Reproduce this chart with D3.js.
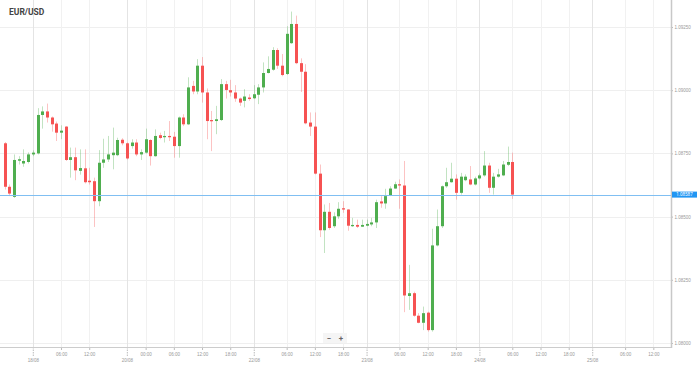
<!DOCTYPE html>
<html>
<head>
<meta charset="utf-8">
<script src="https://cdn.jsdelivr.net/npm/d3@7"></script>
<style>
body { margin: 0; background: #fff; }
svg { display: block; font-family: Roboto, "Open Sans", sans-serif; }
</style>
</head>
<body>
<div id="container"></div>
<script>
// hourly EUR/USD candles, index 0 = 17/08 18:00 (weekend removed)
const opens = [1.08790,1.08618,1.08578,1.08721,1.08710,1.08716,1.08746,1.08750,1.08902,1.08916,
  1.08892,1.08868,1.08832,1.08856,1.08724,1.08735,1.08681,1.08691,1.08642,1.08640,
  1.08561,1.08713,1.08726,1.08743,1.08743,1.08804,1.08790,1.08779,1.08793,1.08746,
  1.08753,1.08803,1.08739,1.08822,1.08814,1.08819,1.08816,1.08779,1.08892,1.08865,
  1.09017,1.08995,1.09097,1.08991,1.08882,1.08878,1.08882,1.09024,1.09000,1.08991,
  1.08967,1.08958,1.08971,1.08968,1.08982,1.09011,1.09068,1.09081,1.09159,1.09097,
  1.09064,1.09186,1.09262,1.09107,1.09073,1.08872,1.08856,1.08670,1.08446,1.08519,
  1.08462,1.08501,1.08533,1.08528,1.08462,1.08467,1.08460,1.08464,1.08469,1.08477,
  1.08560,1.08552,1.08585,1.08611,1.08628,1.08623,1.08186,1.08197,1.08108,1.08080,
  1.08120,1.08051,1.08386,1.08462,1.08620,1.08636,1.08650,1.08594,1.08644,1.08647,
  1.08627,1.08651,1.08663,1.08702,1.08614,1.08658,1.08663,1.08705,1.08716];
const highs = [1.08795,1.08627,1.08746,1.08739,1.08766,1.08754,1.08762,1.08929,1.08936,1.08947,
  1.08896,1.08876,1.08861,1.08858,1.08773,1.08773,1.08766,1.08766,1.08693,1.08654,
  1.08763,1.08808,1.08819,1.08852,1.08812,1.08810,1.08793,1.08806,1.08806,1.08766,
  1.08848,1.08806,1.08845,1.08832,1.08839,1.08878,1.08835,1.08896,1.08905,1.09051,
  1.09037,1.09123,1.09131,1.09007,1.08918,1.08938,1.09044,1.09037,1.09041,1.09020,
  1.08971,1.09004,1.08984,1.09020,1.09024,1.09110,1.09134,1.09170,1.09166,1.09143,
  1.09253,1.09311,1.09295,1.09126,1.09103,1.08912,1.08912,1.08706,1.08548,1.08554,
  1.08517,1.08557,1.08561,1.08530,1.08495,1.08488,1.08488,1.08488,1.08495,1.08567,
  1.08581,1.08610,1.08620,1.08638,1.08647,1.08720,1.08309,1.08203,1.08118,1.08144,
  1.08124,1.08452,1.08528,1.08623,1.08693,1.08713,1.08667,1.08673,1.08667,1.08700,
  1.08658,1.08670,1.08759,1.08713,1.08673,1.08689,1.08720,1.08777,1.08753];
const lows = [1.08607,1.08581,1.08574,1.08706,1.08697,1.08710,1.08739,1.08746,1.08848,1.08872,
  1.08836,1.08799,1.08806,1.08720,1.08654,1.08644,1.08666,1.08631,1.08627,1.08459,
  1.08541,1.08693,1.08716,1.08687,1.08739,1.08782,1.08726,1.08769,1.08739,1.08724,
  1.08749,1.08702,1.08737,1.08806,1.08793,1.08799,1.08733,1.08733,1.08858,1.08862,
  1.08984,1.08984,1.08951,1.08806,1.08759,1.08826,1.08878,1.08967,1.08975,1.08954,
  1.08938,1.08932,1.08958,1.08965,1.08945,1.08991,1.09066,1.09077,1.09084,1.09055,
  1.09060,1.09183,1.09103,1.08993,1.08865,1.08819,1.08667,1.08419,1.08356,1.08448,
  1.08455,1.08491,1.08515,1.08444,1.08459,1.08455,1.08459,1.08462,1.08462,1.08455,
  1.08535,1.08531,1.08581,1.08610,1.08531,1.08122,1.08131,1.08104,1.08078,1.08051,
  1.08045,1.08045,1.08382,1.08455,1.08614,1.08634,1.08567,1.08587,1.08640,1.08624,
  1.08623,1.08647,1.08658,1.08594,1.08587,1.08654,1.08660,1.08700,1.08570];
const closes = [1.08618,1.08591,1.08724,1.08727,1.08720,1.08746,1.08753,1.08902,1.08916,1.08892,
  1.08865,1.08832,1.08840,1.08724,1.08735,1.08683,1.08692,1.08636,1.08636,1.08561,
  1.08713,1.08726,1.08746,1.08753,1.08803,1.08790,1.08730,1.08793,1.08746,1.08755,
  1.08806,1.08739,1.08819,1.08811,1.08819,1.08814,1.08779,1.08892,1.08865,1.09011,
  1.08995,1.09097,1.08991,1.08878,1.08877,1.08885,1.09024,1.09001,1.08991,1.08967,
  1.08951,1.08975,1.08965,1.08984,1.09011,1.09068,1.09084,1.09159,1.09097,1.09060,
  1.09223,1.09262,1.09107,1.09073,1.08869,1.08856,1.08670,1.08446,1.08519,1.08455,
  1.08501,1.08531,1.08528,1.08464,1.08467,1.08460,1.08467,1.08471,1.08477,1.08557,
  1.08552,1.08581,1.08611,1.08628,1.08623,1.08188,1.08197,1.08108,1.08080,1.08118,
  1.08051,1.08386,1.08462,1.08620,1.08636,1.08650,1.08594,1.08658,1.08658,1.08627,
  1.08651,1.08663,1.08702,1.08614,1.08658,1.08667,1.08706,1.08716,1.08587];

const priceTicks = [1.08, 1.0825, 1.085, 1.0875, 1.09, 1.0925];
// x ticks as candle index
const timeTicks = [6, 12, 18, 26, 30, 36, 42, 48, 53, 60, 66, 72, 77, 84, 90, 96, 101, 108, 114, 120, 125, 132, 138];
const timeLabels = ["18/08","06:00","12:00","20/08","00:00","06:00","12:00","18:00","22/08","06:00","12:00","18:00",
  "23/08","06:00","12:00","18:00","24/08","06:00","12:00","18:00","25/08","06:00","12:00"];

const width = 699;
const height = 365;
const plotRight = 671;
const plotBottom = 347;

const green = "#4fae4f";
const red = "#f65252";

const isDate = l => l.includes("/");

const x = d3.scaleLinear().domain([-0.98, 141.76]).range([0, plotRight]);
const y = d3.scaleLinear().domain([1.08, 1.0925]).range([343, 27]);

const candles = opens.map((o, i) => ({i, o, h: highs[i], l: lows[i], c: closes[i]}));

const svg = d3.create("svg")
    .attr("width", width)
    .attr("height", height)
    .attr("viewBox", [0, 0, width, height]);

// grid
svg.append("g")
    .selectAll()
    .data(priceTicks)
    .join("line")
    .attr("x1", 0).attr("x2", plotRight)
    .attr("y1", d => Math.round(y(d)) + 0.5)
    .attr("y2", d => Math.round(y(d)) + 0.5)
    .attr("stroke", "#efefef");

svg.append("g")
    .selectAll()
    .data(timeTicks)
    .join("line")
    .attr("x1", d => Math.round(x(d)) + 0.5)
    .attr("x2", d => Math.round(x(d)) + 0.5)
    .attr("y1", 0).attr("y2", plotBottom)
    .attr("stroke", (d, i) => isDate(timeLabels[i]) ? "#e4e4e4" : "#f1f1f1");

// title
svg.append("text")
    .attr("x", 9).attr("y", 15)
    .attr("font-size", "8.5px")
    .attr("font-weight", "bold")
    .attr("fill", "#444")
    .text("EUR/USD");

// candles
const cg = svg.append("g");
cg.selectAll()
    .data(candles)
    .join("line")
    .attr("x1", d => Math.round(x(d.i)) + 0.5)
    .attr("x2", d => Math.round(x(d.i)) + 0.5)
    .attr("y1", d => y(d.h))
    .attr("y2", d => y(d.l))
    .attr("stroke", d => d.c >= d.o ? green : red)
    .attr("stroke-opacity", 0.35);

cg.selectAll()
    .data(candles)
    .join("rect")
    .attr("x", d => Math.round(x(d.i)) - 1)
    .attr("width", 3)
    .attr("y", d => y(Math.max(d.o, d.c)))
    .attr("height", d => Math.max(1, Math.abs(y(d.o) - y(d.c))))
    .attr("fill", d => d.c >= d.o ? green : red);

// current price line
const last = closes[closes.length - 1];
svg.append("rect")
    .attr("x", 0).attr("width", plotRight)
    .attr("y", Math.round(y(last)))
    .attr("height", 1)
    .attr("fill", "#80bff2");

// right axis
const yAxis = svg.append("g")
    .attr("transform", `translate(${plotRight},0)`)
    .call(d3.axisRight(y).tickValues(priceTicks).tickFormat(d3.format(".5f")).tickSize(2).tickPadding(1.5));
yAxis.select(".domain").remove();
yAxis.selectAll("line").attr("stroke", "#bbb");
yAxis.selectAll("text").attr("font-size", "4.5px").attr("fill", "#999");

// bottom axis
const xAxis = svg.append("g")
    .attr("transform", `translate(0,${plotBottom})`)
    .call(d3.axisBottom(x).tickValues(timeTicks).tickFormat((d, i) => timeLabels[i]).tickSize(3).tickPadding(3));
xAxis.select(".domain").remove();
xAxis.selectAll("text").attr("font-size", "4.5px").attr("fill", "#999");
xAxis.selectAll(".tick").filter((d, i) => isDate(timeLabels[i]))
    .each(function () {
        const t = d3.select(this);
        t.select("line").attr("y2", 10).attr("stroke-dasharray", "1.5,1");
        t.select("text").attr("y", 12);
    });
xAxis.selectAll("line").attr("stroke", "#bbb");

// frame lines
svg.append("line")
    .attr("x1", 0).attr("x2", plotRight)
    .attr("y1", plotBottom + 0.5).attr("y2", plotBottom + 0.5)
    .attr("stroke", "#ccc");
svg.append("line")
    .attr("x1", plotRight + 0.5).attr("x2", plotRight + 0.5)
    .attr("y1", 0).attr("y2", plotBottom + 1)
    .attr("stroke", "#c8c8c8")
    .attr("stroke-width", 1.5);

// price label
const py = y(last);
svg.append("rect")
    .attr("x", plotRight + 1).attr("y", py - 3)
    .attr("width", 25).attr("height", 6)
    .attr("fill", "#2196f3");
svg.append("text")
    .attr("x", plotRight + 13.5).attr("y", py)
    .attr("dy", "0.34em")
    .attr("text-anchor", "middle")
    .attr("font-size", "4.5px")
    .attr("fill", "#fff")
    .text(d3.format(".5f")(last));

// zoom buttons
svg.append("rect")
    .attr("x", 323).attr("y", 333)
    .attr("width", 24).attr("height", 10)
    .attr("fill", "#f5f5f5");
svg.append("text")
    .attr("x", 329).attr("y", 340.5)
    .attr("text-anchor", "middle")
    .attr("font-size", "8px")
    .attr("font-weight", "bold")
    .attr("fill", "#666")
    .text("−");
svg.append("text")
    .attr("x", 341).attr("y", 340.5)
    .attr("text-anchor", "middle")
    .attr("font-size", "8px")
    .attr("font-weight", "bold")
    .attr("fill", "#666")
    .text("+");

d3.select("#container").append(() => svg.node());
</script>
</body>
</html>
